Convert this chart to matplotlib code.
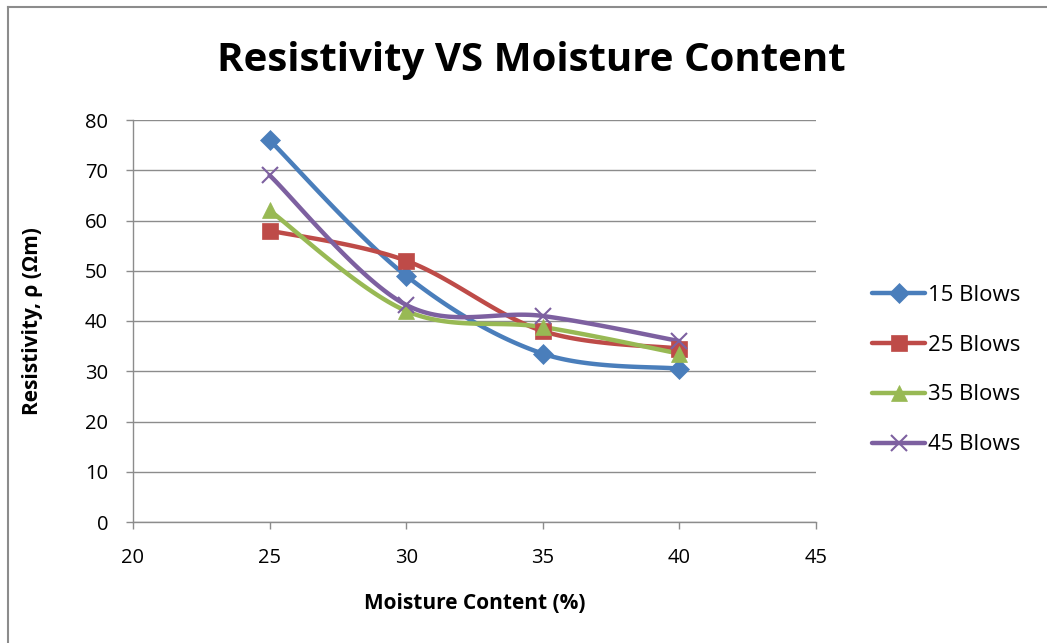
import numpy as np
import matplotlib
matplotlib.use("Agg")
import matplotlib.pyplot as plt
from matplotlib.lines import Line2D

plt.rcParams['font.family'] = ['Open Sans', 'DejaVu Sans']

moisture = [25, 30, 35, 40]
blows_15 = [76, 49, 33.5, 30.5]
blows_25 = [58, 52, 38, 34.5]
blows_35 = [62, 42, 38.8, 33.5]
blows_45 = [69, 43.2, 41, 36]
series_labels = ["15 Blows", "25 Blows", "35 Blows", "45 Blows"]
colors = ["#4A7EBB", "#BE4B48", "#98B954", "#7D60A0"]
markers = ["D", "s", "^", "x"]


def smooth(x, y, n=40):
    """Bezier-smoothed curve through the points (Catmull-Rom style)."""
    p = np.column_stack([x, y]).astype(float)
    ext = np.vstack([p[0], p, p[-1]])
    out = []
    t = np.linspace(0, 1, n)[:, None]
    for i in range(1, len(ext) - 2):
        p0, p1, p2, p3 = ext[i - 1], ext[i], ext[i + 1], ext[i + 2]
        c1 = p1 + (p2 - p0) / 6
        c2 = p2 - (p3 - p1) / 6
        seg = ((1 - t) ** 3) * p1 + 3 * ((1 - t) ** 2) * t * c1 + 3 * (1 - t) * t ** 2 * c2 + t ** 3 * p2
        out.append(seg if i == 1 else seg[1:])
    s = np.vstack(out)
    return s[:, 0], s[:, 1]


fig = plt.figure(figsize=(10.47, 6.43), dpi=100)
# outer chart frame: left and top edges
W, H = 1047.0, 643.0
fig.add_artist(Line2D([8 / W, 8 / W], [0, 1 - 7 / H], transform=fig.transFigure,
                      color="#8C8C8C", linewidth=1.5))
fig.add_artist(Line2D([8 / W, 1], [1 - 7 / H, 1 - 7 / H], transform=fig.transFigure,
                      color="#8C8C8C", linewidth=1.5))

ax = fig.add_axes([133 / W, 1 - 522 / H, (816 - 133) / W, (522 - 120) / H])

handles = []
for ys, lab, c, m in zip([blows_15, blows_25, blows_35, blows_45], series_labels, colors, markers):
    sx, sy = smooth(moisture, ys)
    ax.plot(sx, sy, color=c, linewidth=3.2, solid_capstyle="round", zorder=3)
    ms = {"D": 10, "s": 12, "^": 12, "x": 11}[m]
    mew = 1.5 if m == "x" else 0.5
    ax.plot(moisture, ys, linestyle="none", marker=m, markersize=ms, color=c,
            markeredgewidth=mew, markeredgecolor=c, zorder=4)
    h, = ax.plot([], [], color=c, linewidth=3.2, marker=m, markersize=ms,
                 markeredgewidth=mew, markeredgecolor=c, solid_capstyle="round")
    handles.append(h)

ax.set_xlim(20, 45)
ax.set_ylim(0, 80)
ax.set_xticks(range(20, 46, 5))
ax.set_yticks(range(0, 81, 10))
ax.grid(axis="y", color="#8C8C8C", linewidth=1.0)
ax.set_axisbelow(True)
for s in ["top", "right"]:
    ax.spines[s].set_visible(False)
for s in ["left", "bottom"]:
    ax.spines[s].set_color("#8C8C8C")
    ax.spines[s].set_linewidth(1.0)
ax.tick_params(axis="both", colors="#8C8C8C", labelcolor="black", labelsize=14.5,
               length=5, width=1.0, direction="out")
ax.tick_params(axis="y", pad=13)
ax.tick_params(axis="x", pad=14)

ax.set_xlabel("Moisture Content (%)", fontsize=15, fontweight="bold", labelpad=18)
ax.set_ylabel("Resistivity, ρ (Ωm)", fontsize=15, fontweight="bold", labelpad=30)

fig.text(0.507, 1 - 60 / H, "Resistivity VS Moisture Content", ha="center", va="center",
         fontsize=29, fontweight="bold")

fig.legend(handles, series_labels, loc="center left", bbox_to_anchor=(852 / W, 1 - 370 / H),
           frameon=False, fontsize=16, handlelength=2.4, labelspacing=1.3,
           handletextpad=0.1)

fig.savefig("out.png", dpi=100)
